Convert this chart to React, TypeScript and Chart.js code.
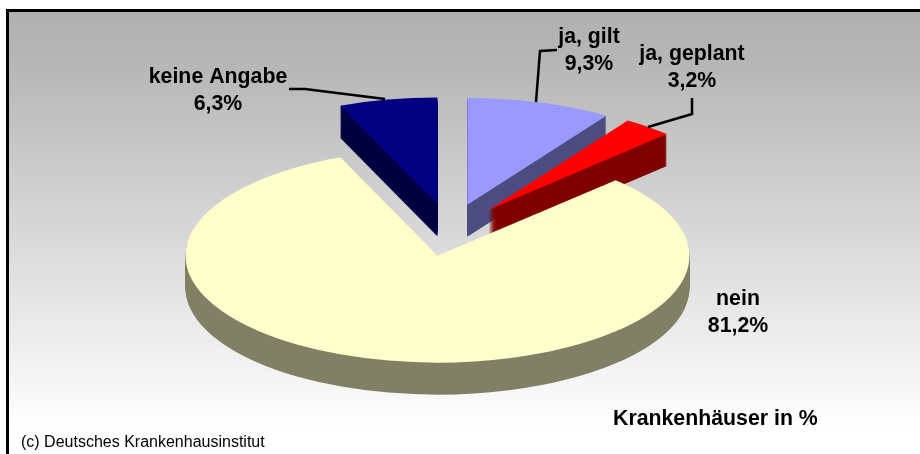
import { useEffect, useRef } from "react";
import { Chart, registerables } from "chart.js";

Chart.register(...registerables);

const categories = ["ja, gilt", "ja, geplant", "nein", "keine Angabe"];
const values = [9.3, 3.2, 81.2, 6.3];
const valueLabels = ["9,3%", "3,2%", "81,2%", "6,3%"];
const topColors = ["#9999FF", "#FF0000", "#FFFFCC", "#000080"];
const sideColors = ["#4D4D80", "#800000", "#808066", "#000040"];
const explode = [62, 62, 62, 62];
const drawOrder = [3, 0, 1, 2];

const labelBoxes = [
  { x: 589, y: 43 },
  { x: 692, y: 60 },
  { x: 738, y: 305 },
  { x: 218, y: 83 },
];
const leaders = [
  [[557, 50], [540, 51], [536, 102]],
  [[692, 98], [692, 114], [648, 127]],
  [],
  [[289, 89], [305, 89], [385, 99]],
];

const TILT = 0.424;
const DEPTH = 32;
const FONT = '"Liberation Sans", Arial, sans-serif';

const pie3d = {
  id: "pie3d",
  beforeDraw(chart: any) {
    const { ctx, width, height } = chart;
    ctx.save();
    ctx.fillStyle = "#fff";
    ctx.fillRect(0, 0, width, height);
    const g = ctx.createLinearGradient(0, 12, 0, 430);
    g.addColorStop(0, "#B0B0B0");
    g.addColorStop(0.12, "#B6B6B6");
    g.addColorStop(1, "#FFFFFF");
    ctx.fillStyle = g;
    ctx.fillRect(8, 11, width - 8, height - 11);
    ctx.strokeStyle = "#000";
    ctx.lineWidth = 3;
    ctx.beginPath();
    ctx.moveTo(7.5, height);
    ctx.lineTo(7.5, 10.5);
    ctx.lineTo(width, 10.5);
    ctx.stroke();
    ctx.restore();
  },
  beforeDatasetsDraw(chart: any) {
    const { ctx } = chart;
    const arcs = chart.getDatasetMeta(0).data;
    const paint = (i: number, dy: number, color: string) => {
      const arc = arcs[i];
      const mid = (arc.startAngle + arc.endAngle) / 2;
      ctx.save();
      ctx.translate(arc.x, arc.y + dy);
      ctx.scale(1, TILT);
      ctx.translate(Math.cos(mid) * explode[i], Math.sin(mid) * explode[i]);
      ctx.translate(-arc.x, -arc.y);
      const saved = arc.options;
      arc.options = Object.assign(Object.create(saved), {
        backgroundColor: color,
        borderColor: color,
        borderWidth: 0,
        offset: 0,
      });
      arc.draw(ctx);
      arc.options = saved;
      ctx.restore();
    };
    for (const i of drawOrder) {
      for (let dy = DEPTH; dy > 0; dy--) paint(i, dy, sideColors[i]);
      paint(i, 0, topColors[i]);
    }
    return false;
  },
  afterDraw(chart: any) {
    const { ctx } = chart;
    ctx.save();
    ctx.strokeStyle = "#000";
    ctx.lineWidth = 2.5;
    ctx.lineJoin = "miter";
    leaders.forEach((pts) => {
      if (!pts.length) return;
      ctx.beginPath();
      pts.forEach(([x, y], k) => (k ? ctx.lineTo(x, y) : ctx.moveTo(x, y)));
      ctx.stroke();
    });
    ctx.fillStyle = "#000";
    ctx.textAlign = "center";
    ctx.textBaseline = "alphabetic";
    ctx.font = `bold 21.3px ${FONT}`;
    categories.forEach((c, i) => {
      const b = labelBoxes[i];
      ctx.fillText(c, b.x, b.y);
      ctx.fillText(valueLabels[i], b.x, b.y + 27);
    });
    ctx.textAlign = "left";
    ctx.fillText("Krankenhäuser in %", 613, 425);
    ctx.font = `16px ${FONT}`;
    ctx.fillText("(c) Deutsches Krankenhausinstitut", 21, 447);
    ctx.restore();
  },
};

export default function App() {
  const ref = useRef<HTMLCanvasElement>(null);
  useEffect(() => {
    const chart = new Chart(ref.current!, {
      type: "pie",
      data: {
        labels: categories,
        datasets: [{ data: values, backgroundColor: topColors, borderWidth: 0 }],
      },
      options: {
        animation: false,
        responsive: false,
        radius: 252,
        layout: { padding: { left: 0, right: 21, top: 6, bottom: 0 } },
        plugins: { legend: { display: false }, tooltip: { enabled: false } },
      } as any,
      plugins: [pie3d],
    });
    return () => chart.destroy();
  }, []);
  return (
    <div style={{ position: "fixed", left: 0, top: 0 }}>
      <canvas ref={ref} width={920} height={454} style={{ display: "block" }} />
    </div>
  );
}
